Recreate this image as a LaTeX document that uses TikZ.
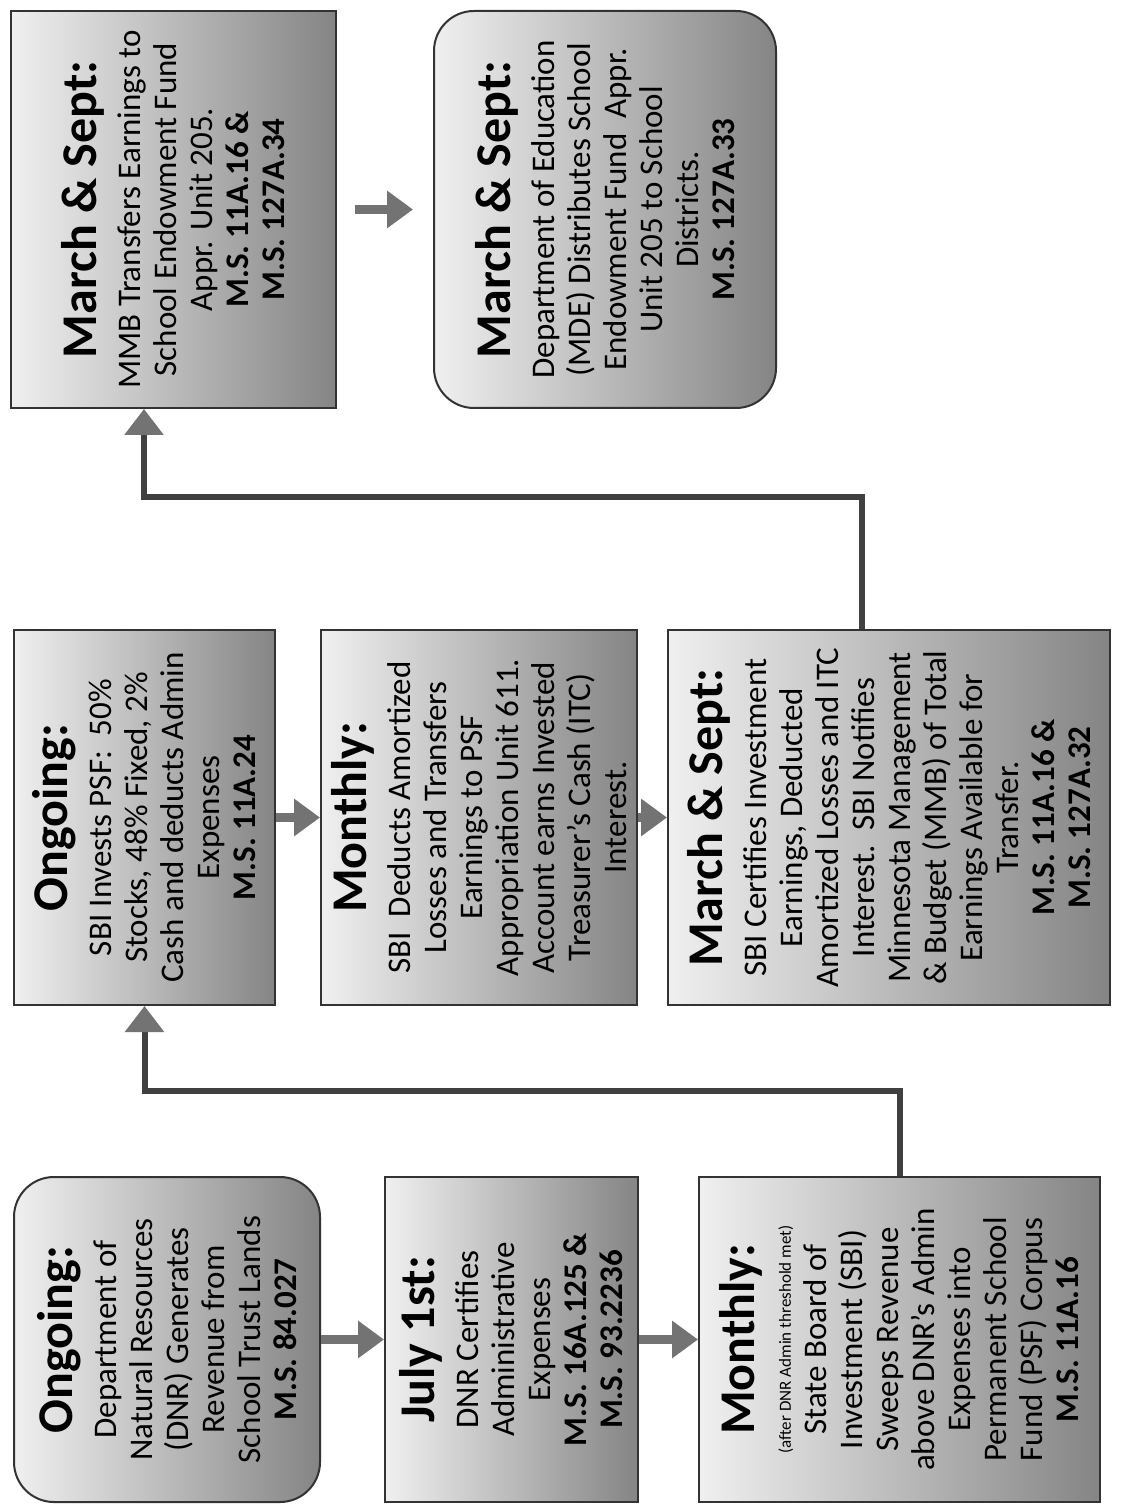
\documentclass[tikz,border=0pt]{standalone}
\usepackage{fontspec}
\setmainfont{Carlito}
\usetikzlibrary{arrows.meta,fit,calc}
\newcommand\hdrtxt[1]{{\fontsize{25}{27}\selectfont\bfseries #1}}
\begin{document}
\begin{tikzpicture}[x=0.5pt,y=-0.5pt,
  box/.style={draw=black!80, line width=1pt, left color=black!6, right color=black!48, inner sep=0pt},
  rbox/.style={box, rounded corners=20pt},
  txt/.style={rotate=90, align=center, text=black, font=\fontsize{16.5}{18}\selectfont, inner sep=0pt},
  arr/.style={draw=black!55, line width=4.5pt, -{Triangle[length=13pt,width=18pt]}},
  conn/.style={draw=black!75, line width=3pt, -{Triangle[length=13pt,width=19pt,fill=black!55,color=black!55]}}
]
\useasboundingbox (0,0) rectangle (1120,1507);
\fill[white] (0,0) rectangle (1120,1507);

% bottom group
\node[rbox, fit={(14,1177) (320,1502)}] (A) {};
\node[box, fit={(385,1177) (638,1502)}] (B) {};
\node[box, fit={(699,1177) (1100,1502)}] (C) {};
% middle group
\node[box, fit={(14,630) (275,1005)}] (D) {};
\node[box, fit={(321,630) (637,1005)}] (E) {};
\node[box, fit={(668,630) (1110,1005)}] (F) {};
% top group
\node[box, fit={(11,11) (336,408)}] (G) {};
\node[rbox, fit={(434,11) (776,408)}] (H) {};

\node[txt] (tA) at (A.center) {\hdrtxt{Ongoing:}\\[4pt]Department of\\Natural Resources\\(DNR) Generates\\Revenue from\\School Trust Lands\\\textbf{M.S. 84.027}};
\node[txt] (tB) at (B.center) {\hdrtxt{July 1st:}\\[4pt]DNR Certifies\\Administrative\\Expenses\\\textbf{M.S. 16A.125 \&}\\\textbf{M.S. 93.2236}};
\node[txt] (tC) at (C.center) {\hdrtxt{Monthly:}\\{\fontsize{8.5}{9}\selectfont (after DNR Admin threshold met)}\\State Board of\\Investment (SBI)\\Sweeps Revenue\\above DNR's Admin\\Expenses into\\Permanent School\\Fund (PSF) Corpus\\\textbf{M.S. 11A.16}};
\node[txt] (tD) at (D.center) {\hdrtxt{Ongoing:}\\[4pt]SBI Invests PSF:~~50\%\\Stocks, 48\% Fixed, 2\%\\Cash and deducts Admin\\Expenses\\\textbf{M.S. 11A.24}};
\node[txt] (tE) at (E.center) {\hdrtxt{Monthly:}\\[4pt]SBI~~Deducts Amortized\\Losses and Transfers\\Earnings to PSF\\Appropriation Unit 611.\\Account earns Invested\\Treasurer's Cash (ITC)\\Interest.};
\node[txt] (tF) at (F.center) {\hdrtxt{March \& Sept:}\\[4pt]SBI Certifies Investment\\Earnings, Deducted\\Amortized Losses and ITC\\Interest.~~SBI Notifies\\Minnesota Management\\\& Budget (MMB) of Total\\Earnings Available for\\Transfer.\\\textbf{M.S. 11A.16 \&}\\\textbf{M.S. 127A.32}};
\node[txt] (tG) at (G.center) {\hdrtxt{March \& Sept:}\\[4pt]MMB Transfers Earnings to\\School Endowment Fund\\Appr. Unit 205.\\\textbf{M.S. 11A.16 \&}\\\textbf{M.S. 127A.34}};
\node[txt] (tH) at (H.center) {\hdrtxt{March \& Sept:}\\[4pt]Department of Education\\(MDE) Distributes School\\Endowment Fund~~Appr.\\Unit 205 to School\\Districts.\\\textbf{M.S. 127A.33}};

% short arrows
\draw[arr] (A.east) -- (B.west);
\draw[arr] (B.east) -- (C.west);
\draw[arr] (D.east) -- (E.west);
\draw[arr] (E.east) -- (F.west);
\draw[arr] ([xshift=9pt]G.east) -- ([xshift=-10pt]H.west);

% connectors
\draw[conn] (C.north) -- ++(0,-85) -| (D.south);
\draw[conn] (F.north -| 862,0) -- (862,497) -| (G.south -| 144,0);
\end{tikzpicture}
\end{document}
